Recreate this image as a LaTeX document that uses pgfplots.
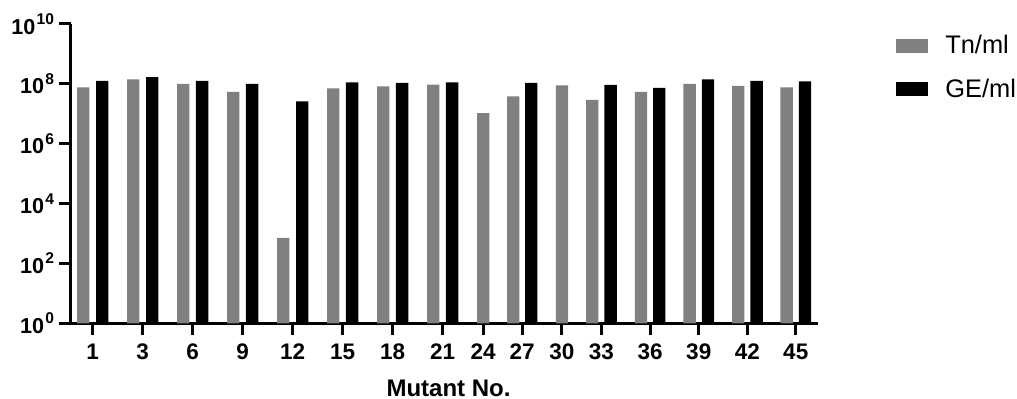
\documentclass[border=0pt]{standalone}
\usepackage{pgfplots}
\pgfplotsset{compat=1.18}
\usepackage{fontspec}
\setmainfont{Liberation Sans}
\definecolor{bargray}{RGB}{128,128,128}
\newcommand\pw[1]{\textbf{10}\kern0.6pt\raisebox{4.8pt}{\fontsize{7.8}{8}\selectfont\bfseries #1}}
\begin{document}
\begin{tikzpicture}
\begin{axis}[
  name=ax,
  scale only axis,
  width=373.5pt, height=149.65pt,
  xmin=71, xmax=818,
  ymode=log, ymin=1, ymax=1e10,
  axis x line*=bottom, axis y line*=left,
  axis line style={line width=1.5pt, -},
  tick style={line width=1.5pt, black},
  major tick length=6pt,
  tick align=outside,
  xtick={92.7,142.7,192.65,242.65,292.7,342.65,392.65,442.65,483.2,522.2,561.9,601.4,650.05,698.75,747.4,795.75},
  xticklabels={1,3,6,9,12,15,18,21,24,27,30,33,36,39,42,45},
  ytick={1,1e2,1e4,1e6,1e8,1e10},
  yticklabels={\pw{0},\pw{2},\pw{4},\pw{6},\pw{8},\pw{10}},
  yminorticks=false,
  xticklabel style={font=\bfseries\fontsize{11.25}{13}\selectfont, text height=8.3pt, text depth=0pt, yshift=-0.5pt},
  yticklabel style={font=\bfseries\fontsize{10.8}{12}\selectfont, xshift=1pt},
  xlabel={Mutant No.},
  xlabel style={font=\bfseries\fontsize{12}{14}\selectfont, yshift=-3pt, xshift=2pt},
  legend style={at={(axis description cs:1.0963,0.99)}, anchor=north west, draw=none, fill=none,
    font=\fontsize{12.7}{14}\selectfont, row sep=7pt,
    /tikz/every odd column/.append style={column sep=6.5pt}},
  legend cell align=left,
  legend image code/.code={\fill[#1] (0pt,-3.5pt) rectangle (16pt,3.5pt);},
]
\addplot[ybar, bar width=6.15pt, bar shift=0pt, fill=bargray, draw=none] coordinates {
(83.2,7.67e7) (133.2,1.42e8) (183.2,9.9e7) (233.2,5.35e7) (283.2,708)
(333.2,7.08e7) (383.2,8.28e7) (433.2,9.42e7) (483.2,1.06e7) (513.2,3.84e7)
(561.9,8.93e7) (592.2,2.89e7) (640.9,5.35e7) (689.6,9.9e7) (738.2,8.49e7) (786.6,7.67e7)
};
\addlegendentry{Tn/ml}
\addplot[ybar, bar width=6.15pt, bar shift=0pt, fill=black, draw=none] coordinates {
(102.2,1.25e8) (152.2,1.69e8) (202.1,1.25e8) (252.1,9.9e7) (302.2,2.61e7)
(352.1,1.12e8) (402.1,1.07e8) (452.1,1.13e8) (531.2,1.07e8)
(610.6,9.16e7) (659.2,7.28e7) (707.9,1.42e8) (756.6,1.25e8) (804.9,1.22e8)
};
\addlegendentry{GE/ml}
\end{axis}
\pgfresetboundingbox
\path ([shift={(-35.5pt,-37.85pt)}]ax.south west) rectangle ([shift={(99.5pt,12pt)}]ax.north east);
\end{tikzpicture}
\end{document}
